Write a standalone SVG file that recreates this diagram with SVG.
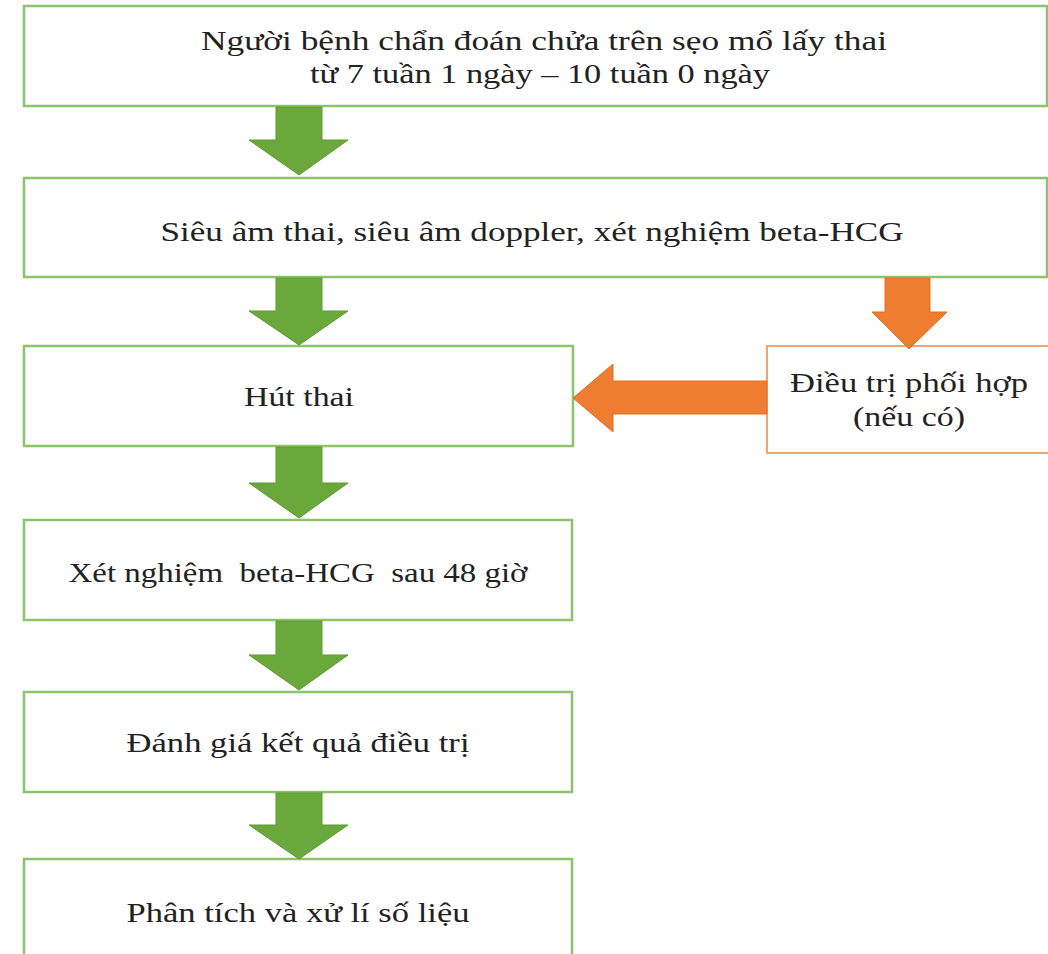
<svg xmlns="http://www.w3.org/2000/svg" width="1048" height="954" viewBox="0 0 1048 954">
<style>
.box{fill:#ffffff;stroke:#8dc46a;stroke-width:2.5}
.obox{fill:#ffffff;stroke:#f3a56e;stroke-width:2}
.t{font-family:"Liberation Serif","Times New Roman",serif;font-size:27px;fill:#222222;text-anchor:middle}
.ga{fill:#6aa83b;stroke:#5f9a35;stroke-width:1}
.oa{fill:#ee7d31;stroke:#e0702a;stroke-width:1}
</style>
<rect width="1048" height="954" fill="#ffffff"/>
<g id="n1"><rect class="box" x="24" y="6" width="1023" height="100"/>
<text class="t" x="544" y="50" textLength="686" lengthAdjust="spacingAndGlyphs">Người bệnh chẩn đoán chửa trên sẹo mổ lấy thai</text>
<text class="t" x="540" y="83" textLength="460" lengthAdjust="spacingAndGlyphs">từ 7 tuần 1 ngày – 10 tuần 0 ngày</text></g>
<g id="n2"><rect class="box" x="24" y="178" width="1023" height="99"/>
<text class="t" x="532" y="241" textLength="743" lengthAdjust="spacingAndGlyphs">Siêu âm thai, siêu âm doppler, xét nghiệm beta-HCG</text></g>
<g id="n3"><rect class="box" x="24" y="346" width="549" height="100"/>
<text class="t" x="299" y="406" textLength="110" lengthAdjust="spacingAndGlyphs">Hút thai</text></g>
<g id="n4"><rect class="obox" x="767" y="346" width="285" height="107"/>
<text class="t" x="909" y="392" textLength="238" lengthAdjust="spacingAndGlyphs">Điều trị phối hợp</text>
<text class="t" x="909" y="426" textLength="112" lengthAdjust="spacingAndGlyphs">(nếu có)</text></g>
<g id="n5"><rect class="box" x="24" y="520" width="548" height="100"/>
<text class="t" x="298" y="582" textLength="459" lengthAdjust="spacingAndGlyphs">Xét nghiệm&#160; beta-HCG&#160; sau 48 giờ</text></g>
<g id="n6"><rect class="box" x="24" y="692" width="548" height="100"/>
<text class="t" x="298" y="752" textLength="343" lengthAdjust="spacingAndGlyphs">Đánh giá kết quả điều trị</text></g>
<g id="n7"><rect class="box" x="24" y="859" width="548" height="110"/>
<text class="t" x="298" y="922" textLength="343" lengthAdjust="spacingAndGlyphs">Phân tích và xử lí số liệu</text></g>
<g id="connectors">
<polygon class="ga" points="276,107 322,107 322,140 348,140 299,175 249,140 276,140"/>
<polygon class="ga" points="276,278 322,278 322,311 348,311 299,345 249,311 276,311"/>
<polygon class="ga" points="276,447 322,447 322,483 348,483 299,518 249,483 276,483"/>
<polygon class="ga" points="276,621 322,621 322,655 348,655 299,690 249,655 276,655"/>
<polygon class="ga" points="276,793 322,793 322,825 348,825 299,859 249,825 276,825"/>
<polygon class="oa" points="885,278 930,278 930,312 947,312 909,349 872,312 885,312"/>
<polygon class="oa" points="767,381 767,414 613,414 613,432 573,398 613,364 613,381"/>
</g>
</svg>
